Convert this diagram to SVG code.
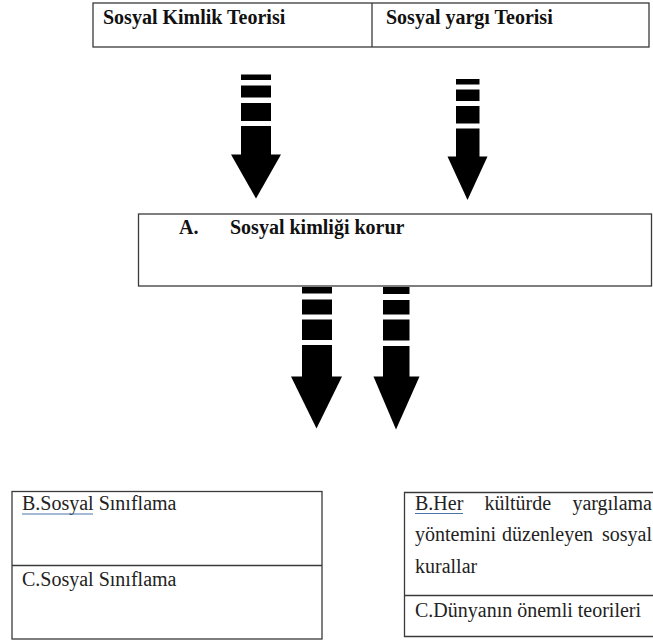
<svg xmlns="http://www.w3.org/2000/svg" width="653" height="640" viewBox="0 0 653 640">
<style>
.box{fill:#fff;stroke:#3a3a3a;stroke-width:1.3}
.ln{stroke:#3a3a3a;stroke-width:1.3}
text{font-family:"Liberation Serif",Tinos,"DejaVu Serif",serif;font-size:20px}
.b{font-weight:bold;fill:#111}
.r{fill:#222}
.ar{fill:#000}
.ul{stroke:#4a74a8;stroke-width:1.2}
</style>
<rect width="653" height="640" fill="#fff"/>
<g id="top-table">
<rect class="box" x="93" y="3" width="556" height="44"/>
<line class="ln" x1="372" y1="3" x2="372" y2="47"/>
<text class="b" x="103" y="24">Sosyal Kimlik Teorisi</text>
<text class="b" x="386" y="24">Sosyal yargı Teorisi</text>
</g>
<g id="middle-box">
<rect class="box" x="138.5" y="214" width="513" height="72"/>
<text class="b" x="179" y="234">A.</text>
<text class="b" x="230" y="234">Sosyal kimliği korur</text>
</g>
<g id="connectors">
<g id="arrow-1" class="ar">
<rect x="241" y="74.5" width="30" height="5.5"/>
<rect x="241" y="85.5" width="30" height="12"/>
<rect x="241" y="103" width="30" height="18"/>
<rect x="241" y="126" width="30" height="29"/>
<polygon points="231,154.5 281,154.5 256,198.5"/>
</g>
<g id="arrow-2" class="ar">
<rect x="456" y="79" width="23.5" height="5.5"/>
<rect x="456" y="89.5" width="23.5" height="11.5"/>
<rect x="456" y="106" width="23.5" height="17.5"/>
<rect x="456" y="128.5" width="23.5" height="28.5"/>
<polygon points="447.5,156.5 487.5,156.5 467.5,200"/>
</g>
<g id="arrow-3" class="ar">
<rect x="302" y="287" width="30" height="6.5"/>
<rect x="302" y="299.5" width="30" height="15"/>
<rect x="302" y="319.5" width="30" height="20.5"/>
<rect x="302" y="345" width="30" height="32"/>
<polygon points="291,376.5 342,376.5 316.5,428.5"/>
</g>
<g id="arrow-4" class="ar">
<rect x="383" y="287" width="26.5" height="7"/>
<rect x="383" y="300" width="26.5" height="14.5"/>
<rect x="383" y="319.5" width="26.5" height="21"/>
<rect x="383" y="346" width="26.5" height="31"/>
<polygon points="373.5,376.5 419.5,376.5 396,429.5"/>
</g>
</g>
<g id="bottom-left-table">
<rect class="box" x="12" y="491.5" width="310" height="147.5"/>
<line class="ln" x1="12" y1="565.5" x2="322" y2="565.5"/>
<text class="r" x="22" y="510">B.Sosyal Sınıflama</text>
<line class="ul" x1="22" y1="514" x2="93" y2="514"/>
<text class="r" x="22" y="585.5">C.Sosyal Sınıflama</text>
</g>
<g id="bottom-right-table">
<path class="box" d="M660,492.5 H404.5 V636.5 H660"/>
<line class="ln" x1="404.5" y1="595.5" x2="660" y2="595.5"/>
<text class="r" y="509.5"><tspan x="415">B.Her</tspan><tspan x="484.5">kültürde</tspan><tspan x="652" text-anchor="end">yargılama</tspan></text>
<line class="ul" x1="415" y1="513.5" x2="463" y2="513.5"/>
<text class="r" y="541"><tspan x="415">yöntemini</tspan><tspan x="502">düzenleyen</tspan><tspan x="652" text-anchor="end">sosyal</tspan></text>
<text class="r" x="415" y="572.5">kurallar</text>
<text class="r" x="415" y="617">C.Dünyanın önemli teorileri</text>
</g>
</svg>
